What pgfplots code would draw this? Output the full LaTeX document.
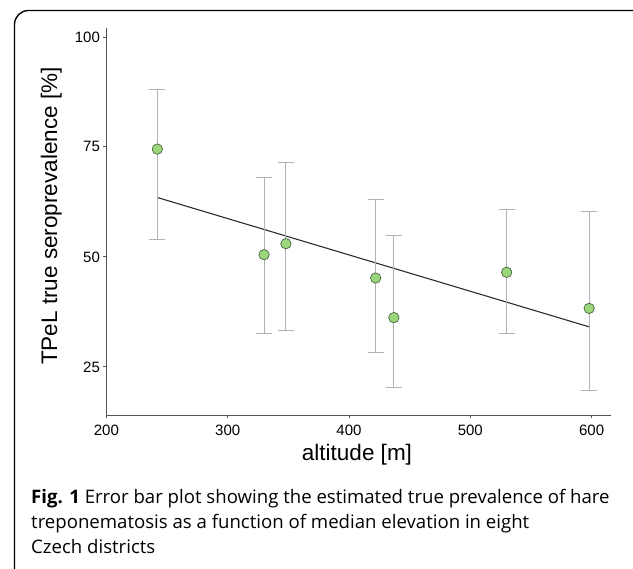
\documentclass[border=0pt]{standalone}
\usepackage{fontspec}
\setmainfont{Liberation Sans}
\newfontfamily\capfont{Open Sans}
\usepackage{pgfplots}
\pgfplotsset{compat=1.18}
\definecolor{ptfill}{RGB}{155,214,125}
\definecolor{ptedge}{RGB}{72,100,62}
\definecolor{barg}{RGB}{178,178,178}
\definecolor{axg}{RGB}{85,85,85}
\definecolor{fitl}{RGB}{45,45,45}

% altitude, true prevalence, upper and lower CI distance
\pgfplotstableread{
x    y     ep    em
242  74.5  13.5  20.5
330  50.5  17.5  17.9
348  53.0  18.5  19.8
422  45.2  17.8  17.0
437  36.2  18.7  15.8
530  46.5  14.2  13.9
598  38.3  22.1  18.6
}\prevdata

\begin{document}
\begin{tikzpicture}[x=1pt,y=1pt]
\useasboundingbox (0,0) rectangle (633,569);
\draw[line width=1.4pt, rounded corners=14pt] (14.5,-30) -- (14.5,558.5) -- (680,558.5);
\begin{axis}[
  at={(106.4pt,153.7pt)}, anchor=south west,
  scale only axis, width=504.6pt, height=387.2pt,
  xmin=200, xmax=616, ymin=14, ymax=102,
  axis lines*=left,
  axis line style={axg, line width=0.9pt},
  xtick={200,300,400,500,600}, ytick={25,50,75,100},
  tick align=outside, major tick length=3pt,
  tick style={axg, line width=0.8pt},
  ticklabel style={font=\fontsize{15}{15}\selectfont},
  xticklabel style={yshift=-3pt},
  /pgf/number format/assume math mode=true,
  clip=false]
\addplot[fitl, line width=1.1pt] coordinates {(242,63.5) (598,34.1)};
\addplot[only marks, mark=*, mark size=5.2pt,
  mark options={fill=ptfill, draw=ptedge, line width=0.7pt},
  error bars/.cd, y dir=both, y explicit,
  error bar style={barg, line width=1pt},
  error mark options={rotate=90, mark size=8pt, barg, line width=1pt}]
  table[x=x, y=y, y error plus=ep, y error minus=em] {\prevdata};
\end{axis}
\node[anchor=base, inner sep=0, font=\fontsize{22.5}{22.5}\selectfont] at (357,108) {altitude [m]};
\node[anchor=base, rotate=90, inner sep=0, font=\fontsize{22.5}{22.5}\selectfont] at (57,353) {TPeL true seroprevalence [\%]};
\node[anchor=base west, inner sep=0, font=\capfont\fontsize{18.6}{25}\selectfont] at (31,65)
  {\textbf{Fig. 1} Error bar plot showing the estimated true prevalence of hare};
\node[anchor=base west, inner sep=0, font=\capfont\fontsize{18.6}{25}\selectfont] at (31,40)
  {treponematosis as a function of median elevation in eight};
\node[anchor=base west, inner sep=0, font=\capfont\fontsize{18.6}{25}\selectfont] at (31,15)
  {Czech districts};
\end{tikzpicture}
\end{document}
